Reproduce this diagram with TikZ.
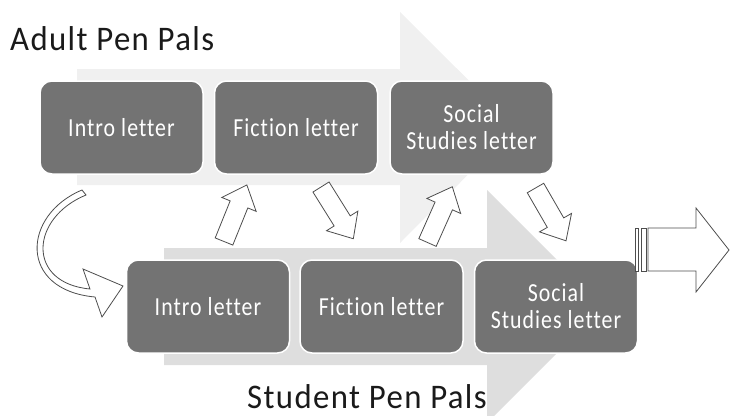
\documentclass[tikz,border=0pt]{standalone}
\usepackage{fontspec}
\setmainfont{Carlito}
\newfontfamily\boxfont{Carlito}[FakeStretch=0.84,LetterSpace=4,Ligatures=NoCommon]
\newfontfamily\titlefont{Carlito}[FakeStretch=0.95,LetterSpace=4,Ligatures=NoCommon]
\usepackage{tikz}
\usetikzlibrary{positioning}

\definecolor{boxgray}{RGB}{115,115,115}
\definecolor{topband}{RGB}{240,240,240}
\definecolor{lowband}{RGB}{222,222,222}
\definecolor{outline}{RGB}{77,77,77}
\definecolor{titleink}{RGB}{26,26,26}

\tikzset{
    letterbox/.style={rectangle,rounded corners=12pt,fill=boxgray,draw=white,line width=1.5pt,
        minimum width=163pt,minimum height=93pt,inner sep=0pt,text=white,align=center,
        font={\boxfont\fontsize{26}{27}\selectfont}},
    pagetitle/.style={inner sep=0pt,anchor=base west,text=titleink,text depth=0pt,
        font={\titlefont\fontsize{34.5}{36}\selectfont}},
    arrowline/.style={draw=outline,line width=0.8pt,fill=white,line join=miter},
    pics/blockarrow/.style={code={
        \draw[arrowline] (0,-9.5) -- (40,-9.5) -- (40,-18.5) -- (61,0) -- (40,18.5) -- (40,9.5) -- (0,9.5) -- cycle;
    }}
}

\begin{document}
\begin{tikzpicture}[x=1pt,y=-1pt]
    \useasboundingbox (0,0) rectangle (730,415);
    \clip (0,0) rectangle (730,415);

    % background bands
    \fill[topband] (77,69) -- (400,69) -- (400,12) -- (515.5,127) -- (400,243) -- (400,185) -- (77,185) -- cycle;
    \fill[lowband] (164,248) -- (487,248) -- (487,190) -- (603.5,306.5) -- (487,423) -- (487,365) -- (164,365) -- cycle;

    \node[pagetitle] (adult) at (10,50) {Adult Pen Pals};
    \node[pagetitle] (student) at (247,408.5) {Student Pen Pals};

    % adult letters
    \node[letterbox] (aintro) at (121.5,127.5) {Intro letter};
    \node[letterbox,right=10pt of aintro] (afiction) {Fiction letter};
    \node[letterbox,right=11pt of afiction] (asocial) {Social\\Studies letter};

    % student letters
    \node[letterbox] (sintro) at (208,306.5) {Intro letter};
    \node[letterbox,right=9pt of sintro] (sfiction) {Fiction letter};
    \node[letterbox,right=10pt of sfiction] (ssocial) {Social\\Studies letter};

    % curved arrow into the student intro
    \draw[arrowline] (82,190) .. controls (22,215) and (18,290) .. (95,297) -- (102,317) -- (123,286)
        -- (83,269) -- (90,289) .. controls (26,283) and (30,218) .. (86,195) -- cycle;

    % replies going up and down
    \pic[rotate=68] at (224,241.5) {blockarrow};
    \pic[rotate=-58] at (321,187) {blockarrow};
    \pic[rotate=66] at (427.5,242.5) {blockarrow};
    \pic[rotate=-60] at (535.5,188) {blockarrow};

    % striped arrow on the right
    \draw[arrowline] (635.5,228) rectangle (638.5,271);
    \draw[arrowline] (641,228) rectangle (646,271);
    \draw[arrowline] (648,228) -- (696,228) -- (696,208) -- (729,250) -- (696,292) -- (696,271) -- (648,271) -- cycle;
\end{tikzpicture}
\end{document}
